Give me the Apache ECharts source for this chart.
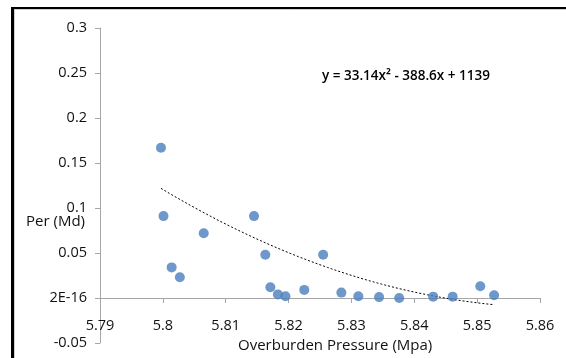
<!DOCTYPE html>
<html>
<head>
<meta charset="utf-8">
<script src="https://cdn.jsdelivr.net/npm/echarts@6/dist/echarts.min.js"></script>
<style>
  html, body { margin: 0; padding: 0; background: #fff; }
  #chart { width: 566px; height: 358px; }
</style>
</head>
<body>
<div id="chart"></div>
<script>
// Overburden pressure (MPa) against permeability (mD) samples
const pressure = [5.7997, 5.8001, 5.8014, 5.8027, 5.8065, 5.8145, 5.8163, 5.8171, 5.8183, 5.8195,
                  5.8225, 5.8255, 5.8284, 5.8311, 5.8344, 5.8376, 5.8430, 5.8461, 5.8505, 5.8527];
const permeability = [0.167, 0.091, 0.034, 0.023, 0.072, 0.091, 0.048, 0.012, 0.004, 0.002,
                      0.009, 0.048, 0.006, 0.002, 0.001, 0.000, 0.0015, 0.0015, 0.013, 0.003];

// Polynomial trend y = a x^2 + b x + c (constant carried to more places than the label shows)
const trendCoef = [33.14, -388.6, 1139.171];

// Axis tick labels
const xTickLabels = ['5.79', '5.8', '5.81', '5.82', '5.83', '5.84', '5.85', '5.86'];
const yTickLabels = ['-0.05', '2E-16', '0.05', '0.1', '0.15', '0.2', '0.25', '0.3'];
const equationText = 'y = 33.14x\u00B2 - 388.6x + 1139';

const X_MIN = 5.79, X_MAX = 5.86, X_STEP = 0.01;
const Y_MIN = -0.05, Y_MAX = 0.3, Y_STEP = 0.05;

// Plot area
const GRID = { left: 100, right: 26, top: 28, bottom: 15 };
const PLOT_H = 358 - GRID.top - GRID.bottom;
// The x axis crosses the y axis at zero: shift it up from the bottom edge
const X_AXIS_SHIFT = -PLOT_H * (0 - Y_MIN) / (Y_MAX - Y_MIN);

// Evaluate the trend in vertex form to avoid cancellation between large terms
function trendAt(x) {
  const [a, b, c] = trendCoef;
  const x0 = -b / (2 * a);
  const y0 = c - b * b / (4 * a);
  return a * (x - x0) * (x - x0) + y0;
}

const xLo = Math.min(...pressure), xHi = Math.max(...pressure);
const trendData = [];
for (let i = 0; i <= 80; i++) {
  const x = xLo + (xHi - xLo) * i / 80;
  trendData.push([x, trendAt(x)]);
}

const chart = echarts.init(document.getElementById('chart'), null, { renderer: 'canvas' });
const FONT = '"Open Sans", sans-serif';
const TEXT = '#111111';

chart.setOption({
  animation: false,
  backgroundColor: '#ffffff',
  grid: Object.assign({ containLabel: false, outerBoundsMode: 'none' }, GRID),
  xAxis: {
    type: 'value',
    position: 'bottom',
    offset: X_AXIS_SHIFT,
    min: X_MIN, max: X_MAX, interval: X_STEP,
    axisLine: { onZero: false, lineStyle: { color: '#a6a6a6', width: 1 } },
    axisTick: { show: true, length: 5, lineStyle: { color: '#a6a6a6' } },
    axisLabel: {
      margin: 20, color: TEXT, fontFamily: FONT, fontSize: 14.5,
      formatter: v => xTickLabels[Math.round((v - X_MIN) / X_STEP)] || ''
    },
    splitLine: { show: false }
  },
  yAxis: {
    type: 'value',
    min: Y_MIN, max: Y_MAX, interval: Y_STEP,
    axisLine: { show: true, onZero: false, lineStyle: { color: '#a6a6a6', width: 1 } },
    axisTick: { show: true, length: 5, lineStyle: { color: '#a6a6a6' } },
    axisLabel: {
      margin: 13, color: TEXT, fontFamily: FONT, fontSize: 14.5,
      formatter: v => yTickLabels[Math.round((v - Y_MIN) / Y_STEP)] || ''
    },
    splitLine: { show: false }
  },
  series: [
    {
      type: 'scatter',
      data: pressure.map((x, i) => [x, permeability[i]]),
      symbol: 'circle',
      symbolSize: 10,
      itemStyle: { color: '#4a7ebb' },
      z: 3
    },
    {
      type: 'line',
      data: trendData,
      showSymbol: false,
      smooth: false,
      lineStyle: { color: '#000000', width: 1, type: [2, 2] },
      z: 2
    }
  ],
  graphic: [
    { type: 'line', shape: { x1: 12.5, y1: 7, x2: 12.5, y2: 400 }, style: { stroke: '#000', lineWidth: 3 }, z: 10 },
    { type: 'line', shape: { x1: 11, y1: 8, x2: 600, y2: 8 }, style: { stroke: '#000', lineWidth: 2 }, z: 10 },
    { type: 'line', shape: { x1: 14.5, y1: 9.5, x2: 14.5, y2: 400 }, style: { stroke: '#cfcfcf', lineWidth: 1 }, z: 9 },
    { type: 'line', shape: { x1: 14, y1: 9.5, x2: 600, y2: 9.5 }, style: { stroke: '#cfcfcf', lineWidth: 1 }, z: 9 },
    {
      type: 'text', left: 26, top: 214,
      style: { text: 'Per (Md)', fill: TEXT, font: '15px ' + FONT }
    },
    {
      type: 'text', left: 238, top: 338,
      style: { text: 'Overburden Pressure (Mpa)', fill: TEXT, font: '15px ' + FONT }
    },
    {
      type: 'text', left: 322, top: 69,
      style: { text: equationText, fill: '#000', font: '600 13.5px ' + FONT }
    }
  ]
});
</script>
</body>
</html>
